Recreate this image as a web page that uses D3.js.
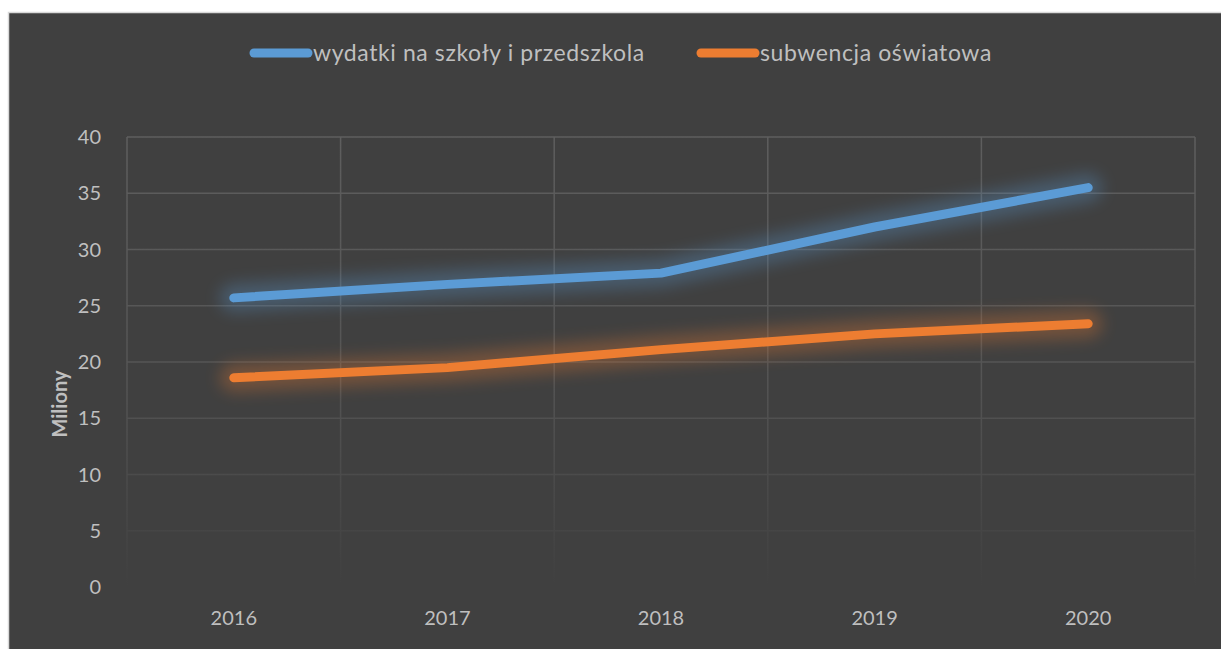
<!DOCTYPE html>
<html>
<head>
<meta charset="utf-8">
<script src="https://cdn.jsdelivr.net/npm/d3@7"></script>
<style>
  body { margin: 0; background: #fff; }
  svg { display: block; }
</style>
</head>
<body>
<div class="chart"></div>
<script>
const years = ["2016", "2017", "2018", "2019", "2020"];
const wydatki = [25.7, 26.9, 27.9, 32.0, 35.5];
const subwencja = [18.6, 19.5, 21.1, 22.5, 23.4];
const yTicks = [0, 5, 10, 15, 20, 25, 30, 35, 40];
const seriesNames = ["wydatki na szkoły i przedszkola", "subwencja oświatowa"];
const seriesColors = ["#5b9bd5", "#ed7d31"];

const W = 1221, H = 649;
const font = "Lato, 'Open Sans', sans-serif";

const svg = d3.select(".chart")
    .append("svg")
    .attr("width", W)
    .attr("height", H);

// chart background with light border on top / left
svg.append("rect")
    .attr("x", 8.5).attr("y", 12.5)
    .attr("width", W).attr("height", H)
    .attr("fill", "#404040")
    .attr("stroke", "#d9d9d9")
    .attr("stroke-width", 1.5);

const x = d3.scaleBand().domain(years).range([127, 1195]);
const y = d3.scaleLinear().domain([0, 40]).range([587, 137]);

const defs = svg.append("defs");
const grad = defs.append("linearGradient")
    .attr("id", "gridfade")
    .attr("gradientUnits", "userSpaceOnUse")
    .attr("x1", 0).attr("x2", 0)
    .attr("y1", 137).attr("y2", 587);
grad.append("stop").attr("offset", "0%").attr("stop-color", "#5e5e5e");
grad.append("stop").attr("offset", "55%").attr("stop-color", "#545454");
grad.append("stop").attr("offset", "100%").attr("stop-color", "#404040");

const glow = defs.append("filter")
    .attr("id", "glow")
    .attr("x", "-20%").attr("y", "-80%")
    .attr("width", "140%").attr("height", "260%");
glow.append("feGaussianBlur").attr("stdDeviation", 8);

// gridlines
svg.append("g")
    .selectAll("line")
    .data(yTicks)
    .join("line")
    .attr("x1", 127).attr("x2", 1195)
    .attr("y1", d => y(d)).attr("y2", d => y(d))
    .attr("stroke", "url(#gridfade)")
    .attr("stroke-width", 1.5);

const vlines = [x.range()[0]].concat(years.map(d => x(d) + x.bandwidth()));
svg.append("g")
    .selectAll("line")
    .data(vlines)
    .join("line")
    .attr("x1", d => d).attr("x2", d => d)
    .attr("y1", 137).attr("y2", 587)
    .attr("stroke", "url(#gridfade)")
    .attr("stroke-width", 1.5);

// y axis labels
svg.append("g")
    .selectAll("text")
    .data(yTicks)
    .join("text")
    .attr("x", 101)
    .attr("y", d => y(d))
    .attr("dy", "0.35em")
    .attr("text-anchor", "end")
    .attr("font-family", font)
    .attr("font-size", "20px")
    .attr("fill", "#bfbfbf")
    .text(d => d);

// x axis labels
svg.append("g")
    .selectAll("text")
    .data(years)
    .join("text")
    .attr("x", d => x(d) + x.bandwidth() / 2)
    .attr("y", 618)
    .attr("dy", "0.35em")
    .attr("text-anchor", "middle")
    .attr("font-family", font)
    .attr("font-size", "20px")
    .attr("fill", "#bfbfbf")
    .text(d => d);

// axis title
svg.append("text")
    .attr("transform", "translate(67,404) rotate(-90)")
    .attr("text-anchor", "middle")
    .attr("font-family", font)
    .attr("font-size", "20px")
    .attr("font-weight", "bold")
    .attr("fill", "#bfbfbf")
    .text("Miliony");

// lines
const line = d3.line()
    .x((d, i) => x(years[i]) + x.bandwidth() / 2)
    .y(d => y(d));

const series = [wydatki, subwencja];
series.forEach((s, i) => {
    svg.append("path")
        .attr("d", line(s))
        .attr("fill", "none")
        .attr("stroke", seriesColors[i])
        .attr("stroke-width", 28)
        .attr("stroke-linecap", "round")
        .attr("stroke-linejoin", "round")
        .attr("opacity", 0.3)
        .attr("filter", "url(#glow)");
});
series.forEach((s, i) => {
    svg.append("path")
        .attr("d", line(s))
        .attr("fill", "none")
        .attr("stroke", seriesColors[i])
        .attr("stroke-width", 9)
        .attr("stroke-linecap", "round")
        .attr("stroke-linejoin", "round");
});

// legend
const legendX = [254, 701];
const legend = svg.append("g")
    .selectAll("g")
    .data(seriesNames)
    .join("g")
    .attr("transform", (d, i) => `translate(${legendX[i]},53)`);

legend.append("line")
    .attr("x1", 0).attr("x2", 54)
    .attr("stroke", (d, i) => seriesColors[i])
    .attr("stroke-width", 9)
    .attr("stroke-linecap", "round");

legend.append("text")
    .attr("x", 59)
    .attr("dy", "0.35em")
    .attr("font-family", font)
    .attr("font-size", "23px")
    .attr("letter-spacing", "0.6px")
    .attr("fill", "#bfbfbf")
    .text(d => d);
</script>
</body>
</html>
